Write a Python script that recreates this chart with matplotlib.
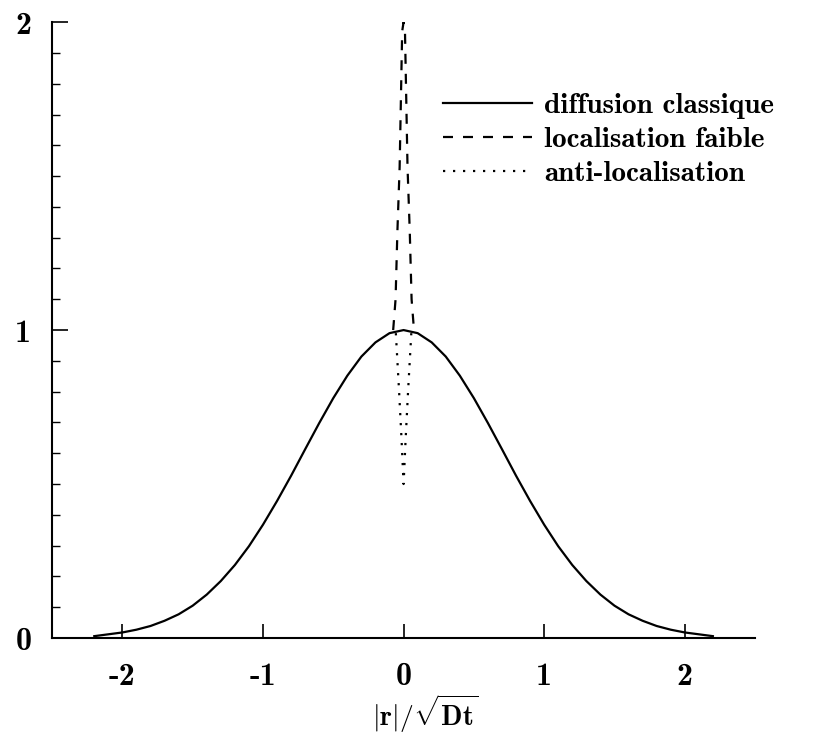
import numpy as np
import matplotlib
matplotlib.use("Agg")
import matplotlib.pyplot as plt

plt.rcParams["font.family"] = ["cmb10", "DejaVu Serif"]
plt.rcParams["mathtext.fontset"] = "cm"
plt.rcParams["axes.unicode_minus"] = False

# classic diffusion profile (right half, mirrored)
x_half = [0.0, 0.1, 0.2, 0.3, 0.4, 0.5, 0.6, 0.7, 0.8, 0.9, 1.0, 1.1,
          1.2, 1.3, 1.4, 1.5, 1.6, 1.7, 1.8, 1.9, 2.0, 2.1, 2.2]
y_half = [1.00, 0.99, 0.96, 0.914, 0.852, 0.779, 0.698, 0.613, 0.527, 0.445,
          0.368, 0.298, 0.237, 0.185, 0.141, 0.105, 0.077, 0.056, 0.039,
          0.027, 0.018, 0.012, 0.006]

# weak localisation peak (half width vs height)
weak_x = [0.074, 0.057, 0.044, 0.028, 0.01, 0.0]
weak_y = [1.0, 1.10, 1.32, 1.53, 1.97, 2.0]

# anti-localisation dip
anti_x = [0.055, 0.033, 0.015, 0.0]
anti_y = [0.99, 0.81, 0.65, 0.5]

labels = ["diffusion classique", "localisation faible", "anti-localisation"]


def mirror(xs, ys):
    xs = np.array(xs)
    ys = np.array(ys)
    return np.concatenate([-xs, xs[::-1]]), np.concatenate([ys, ys[::-1]])


fig = plt.figure(figsize=(8.27, 7.38), dpi=100)
ax = fig.add_axes([0.063, 0.1355, 0.85, 0.8345])

cx = np.concatenate([-np.array(x_half[::-1]), np.array(x_half[1:])])
cy = np.concatenate([np.array(y_half[::-1]), np.array(y_half[1:])])
wx, wy = mirror(weak_x, weak_y)
dx, dy = mirror(anti_x, anti_y)

dash = (0, (4.5, 4.5))
dot = (0, (1.0, 3.5))
ax.plot(cx, cy, color="black", lw=1.6, label=labels[0])
ax.plot(wx, wy, color="black", lw=1.6, linestyle=dash, label=labels[1])
ax.plot(dx, dy, color="black", lw=1.6, linestyle=dot, label=labels[2])

ax.set_xlim(-2.5, 2.5)
ax.set_ylim(0, 2)
ax.spines["top"].set_visible(False)
ax.spines["right"].set_visible(False)
ax.spines["left"].set_linewidth(1.5)
ax.spines["bottom"].set_linewidth(1.5)

ax.set_xticks([-2, -1, 0, 1, 2])
ax.set_yticks([0, 1, 2])
ax.set_yticks(np.arange(0, 2.01, 0.1), minor=True)
ax.tick_params(axis="x", which="major", direction="in", length=10,
               width=1.2, labelsize=23, pad=17)
ax.tick_params(axis="y", which="major", direction="in", length=11.5,
               width=1.2, labelsize=23, pad=15)
ax.tick_params(axis="y", which="minor", direction="in", length=6, width=1.0)

ax.set_xlabel(r"$\mathbf{|r|/\sqrt{Dt}}$", fontsize=20)
ax.xaxis.set_label_coords(0.53, -0.088)

ax.legend(loc="upper left", bbox_to_anchor=(0.556, 0.885), frameon=False,
          fontsize=21, handlelength=3.05, handletextpad=0.42,
          labelspacing=0.25, borderpad=0, borderaxespad=0)

fig.savefig("out.png", dpi=100)
